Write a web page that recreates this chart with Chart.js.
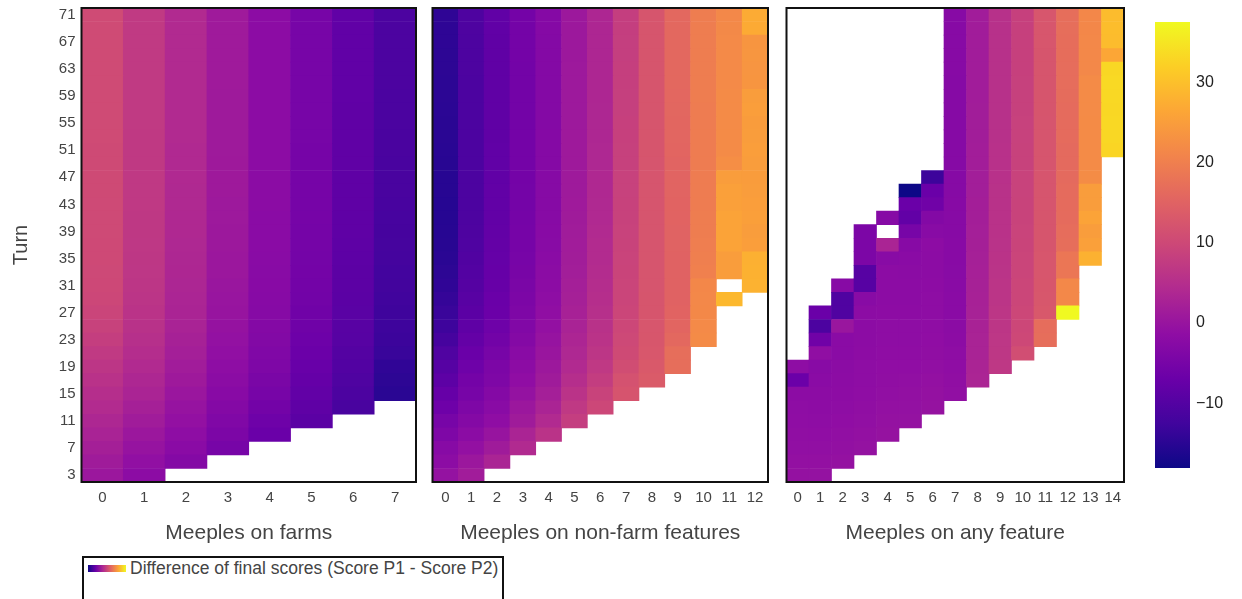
<!DOCTYPE html>
<html>
<head>
<meta charset="utf-8">
<script src="https://cdn.jsdelivr.net/npm/chart.js@4.4.1/dist/chart.umd.min.js"></script>
<style>
body { margin: 0; background: #fff; width: 1242px; height: 599px; overflow: hidden; position: relative; font-family: "Liberation Sans", Arial, sans-serif; }
canvas { position: absolute; top: 0; }
#legend { position: absolute; left: 82px; top: 556px; width: 418px; height: 60px; border: 2px solid #111; color: #444; font-size: 17.5px; }
#legend .swatch { position: absolute; left: 4px; top: 7px; width: 38px; height: 7px;
  background: linear-gradient(to right, #0d0887, #6a00a8, #b12a90, #e16462, #fca636, #f0f921); }
#legend .txt { position: absolute; left: 46px; top: 0; line-height: 21px; white-space: nowrap; }
</style>
</head>
<body>
<canvas id="farms" width="418" height="550" style="left:0px"></canvas>
<canvas id="nonfarm" width="340" height="550" style="left:430px"></canvas>
<canvas id="anyfeat" width="342" height="550" style="left:784px"></canvas>
<canvas id="cbar" width="112" height="599" style="left:1130px"></canvas>
<div id="legend"><span class="swatch"></span><span class="txt">Difference of final scores (Score P1 - Score P2)</span></div>
<script>
// turns (rows, 2 turns each) and the y tick labels
var turns = [3,5,7,9,11,13,15,17,19,21,23,25,27,29,31,33,35,37,39,41,43,45,47,49,51,53,55,57,59,61,63,65,67,69,71];
var yTicks = [3,7,11,15,19,23,27,31,35,39,43,47,51,55,59,63,67,71];
var cbTicks = [-10,0,10,20,30];

// meeples on farms: first turn of each column, then values from that turn upwards
var farmsCols = ['0','1','2','3','4','5','6','7'];
var farmsStart = [3,3,5,7,9,11,13,15];
var farmsZ = [
  [0.5,1.3,2.1,2.9,3.6,4.3,5.0,5.8,6.5,7.3,8.1,8.8,9.4,9.8,10.0,10.1,10.2,10.2,10.3,10.3,10.3,10.4,10.4,10.4,10.4,10.5,10.5,10.5,10.5,10.5,10.5,10.6,10.6,10.6,10.6],
  [-1.8,-1.0,-0.2,0.6,1.4,2.2,3.0,3.6,4.2,4.8,5.3,5.7,6.0,6.3,6.5,6.6,6.7,6.8,6.9,6.9,7.0,7.0,7.0,7.1,7.1,7.1,7.2,7.2,7.2,7.2,7.2,7.3,7.3,7.3,7.3],
  [-3.0,-2.2,-1.5,-0.8,-0.2,0.4,1.0,1.5,2.0,2.4,2.8,3.0,3.2,3.4,3.5,3.6,3.7,3.8,3.8,3.9,3.9,4.0,4.0,4.0,4.1,4.1,4.1,4.1,4.2,4.2,4.2,4.2,4.2,4.2],
  [-5.0,-4.3,-3.6,-3.0,-2.5,-2.0,-1.5,-1.1,-0.7,-0.4,-0.1,0.1,0.3,0.5,0.6,0.7,0.8,0.9,0.9,1.0,1.0,1.0,1.1,1.1,1.1,1.1,1.1,1.2,1.2,1.2,1.2,1.2,1.2],
  [-7.0,-6.3,-5.6,-5.0,-4.5,-4.0,-3.6,-3.3,-3.0,-2.8,-2.6,-2.5,-2.4,-2.3,-2.2,-2.1,-2.1,-2.0,-2.0,-2.0,-1.9,-1.9,-1.9,-1.9,-1.9,-1.8,-1.8,-1.8,-1.8,-1.8,-1.8,-1.8],
  [-9.0,-8.5,-8.0,-7.6,-7.2,-6.8,-6.5,-6.2,-6.0,-5.8,-5.6,-5.5,-5.4,-5.3,-5.3,-5.2,-5.2,-5.1,-5.1,-5.1,-5.1,-5.0,-5.0,-5.0,-5.0,-5.0,-5.0,-5.0,-5.0,-5.0,-5.0],
  [-11.5,-11.0,-10.6,-10.2,-9.9,-9.6,-9.4,-9.2,-9.0,-8.9,-8.8,-8.7,-8.6,-8.5,-8.5,-8.4,-8.4,-8.4,-8.3,-8.3,-8.3,-8.3,-8.3,-8.2,-8.2,-8.2,-8.2,-8.2,-8.2,-8.2],
  [-15.0,-14.7,-14.3,-13.4,-13.1,-12.9,-12.7,-12.5,-12.3,-12.2,-12.0,-11.9,-11.8,-11.7,-11.6,-11.5,-11.4,-11.4,-11.3,-11.3,-11.2,-11.2,-11.2,-11.1,-11.1,-11.1,-11.0,-11.0,-11.0]
];

// meeples on non-farm features
var nonFarmCols = ['0','1','2','3','4','5','6','7','8','9','10','11','12'];
var nonFarmStart = [3,3,5,7,9,11,13,15,17,19,23,29,31];
var nonFarmZ = [
  [-0.5,-1.8,-2.6,-4.0,-5.0,-6.4,-7.5,-8.7,-9.7,-10.5,-11.8,-12.8,-13.3,-13.8,-14.3,-14.7,-15.0,-15.2,-15.3,-15.4,-15.4,-15.3,-15.3,-15.2,-15.1,-15.0,-15.0,-14.9,-14.8,-14.8,-14.7,-14.7,-14.6,-14.6,-14.5],
  [1.5,0.5,-0.8,-2.0,-3.0,-4.0,-5.0,-5.5,-6.3,-7.0,-7.8,-8.5,-9.0,-9.4,-9.8,-10.1,-10.4,-10.6,-10.8,-10.9,-11.0,-11.0,-11.1,-11.1,-11.1,-11.1,-11.1,-11.0,-11.0,-11.0,-10.9,-10.9,-10.9,-10.8,-10.8],
  [3.0,1.3,0.0,-1.4,-2.3,-3.0,-4.0,-4.3,-5.0,-5.7,-6.3,-6.8,-7.0,-7.3,-7.5,-7.7,-7.8,-7.9,-8.0,-8.1,-8.1,-8.2,-8.2,-8.2,-8.3,-8.3,-8.3,-8.3,-8.3,-8.3,-8.3,-8.3,-8.2,-8.2],
  [4.2,3.0,1.3,0.5,-0.5,-1.3,-1.8,-2.3,-3.0,-3.5,-4.0,-4.3,-4.6,-4.8,-5.0,-5.1,-5.2,-5.3,-5.4,-5.4,-5.5,-5.5,-5.5,-5.5,-5.6,-5.6,-5.6,-5.6,-5.6,-5.5,-5.5,-5.5,-5.5],
  [6.0,4.2,3.0,2.0,1.3,0.8,0.2,-0.3,-0.8,-1.2,-1.5,-1.8,-2.0,-2.2,-2.4,-2.5,-2.6,-2.7,-2.8,-2.8,-2.9,-2.9,-2.9,-3.0,-3.0,-3.0,-3.0,-3.0,-3.0,-3.0,-2.9,-2.9],
  [8.0,7.0,6.0,5.0,4.2,3.7,3.3,2.8,2.5,2.2,2.0,1.8,1.6,1.5,1.4,1.3,1.2,1.1,1.1,1.0,1.0,1.0,0.9,0.9,0.9,0.9,0.9,0.8,0.8,0.8,0.8],
  [9.8,9.0,7.8,7.0,6.5,6.0,5.7,5.3,5.0,4.8,4.6,4.4,4.3,4.1,4.0,3.9,3.8,3.8,3.7,3.7,3.6,3.6,3.6,3.5,3.5,3.5,3.5,3.5,3.5,3.5],
  [12.3,11.8,10.9,10.4,10.1,9.8,9.6,9.4,9.3,9.2,9.1,9.0,8.9,8.8,8.8,8.7,8.7,8.6,8.6,8.5,8.5,8.4,8.4,8.3,8.3,8.2,8.2,8.1,8.1],
  [13.5,13.3,12.9,12.7,12.6,12.5,12.5,12.4,12.4,12.4,12.4,12.4,12.4,12.4,12.4,12.4,12.4,12.5,12.5,12.5,12.5,12.5,12.5,12.5,12.5,12.5,12.5,12.5],
  [17.0,17.0,16.0,15.5,15.2,15.0,15.0,15.0,15.0,15.1,15.1,15.2,15.2,15.3,15.3,15.4,15.5,15.6,15.7,15.8,15.9,16.0,16.0,16.0,16.1,16.1,16.1],
  [22.0,21.8,21.6,21.5,21.3,20.2,20.0,19.8,19.7,19.6,19.5,19.5,19.5,19.5,19.5,19.5,19.5,19.5,19.6,19.6,19.6,19.6,19.7,19.7,19.7],
  [29.0,null,25.0,25.0,26.0,26.0,26.0,25.5,25.5,25.0,22.5,22.0,22.0,22.0,22.0,22.0,21.8,21.8,21.8,21.8,21.7,21.5],
  [28.2,28.0,27.8,25.2,25.0,25.3,25.1,25.0,24.8,25.0,25.2,25.0,24.9,25.1,25.0,23.7,23.6,23.8,23.7,27.0,27.2]
];

// meeples on any feature
var anyCols = ['0','1','2','3','4','5','6','7','8','9','10','11','12','13','14'];
var anyStart = [3,3,5,7,9,11,13,15,17,19,21,23,27,35,51];
var anyZ = [
  [-0.6,-0.8,-1.0,-1.2,-1.4,-1.6,-1.9,-6.8,-1.6],
  [-0.5,-0.8,-1.0,-1.3,-1.5,-1.7,-1.9,-2.1,-2.4,-1.2,-6.0,-11.0,-7.0],
  [-0.6,-0.9,-1.1,-1.3,-1.5,-1.7,-1.9,-2.0,-2.1,-2.2,0.3,-10.5,-10.5,-2.6],
  [-0.5,-0.8,-1.0,-1.2,-1.4,-1.5,-1.6,-1.7,-1.8,-1.9,-1.9,-2.4,-9.5,-9.5,-4.2,-4.2,-4.2],
  [-0.4,-0.6,-0.8,-1.0,-1.2,-1.3,-1.4,-1.5,-1.6,-1.7,-1.8,-1.8,-1.9,-2.4,3.0,null,-2.8],
  [-0.5,-0.7,-0.9,-1.1,-1.3,-1.4,-1.5,-1.6,-1.7,-1.8,-1.9,-2.0,-2.1,-2.6,-5.0,-8.0,-7.0,-18.1],
  [-0.4,-0.6,-0.8,-1.0,-1.2,-1.3,-1.4,-1.5,-1.6,-1.7,-1.8,-1.8,-1.7,-2.4,-3.2,-6.0,-7.0,-13.0],
  [-1.0,-1.2,-1.4,-1.6,-1.8,-2.0,-2.1,-2.2,-2.3,-2.4,-2.5,-2.5,-2.6,-2.6,-2.6,-2.7,-2.7,-2.7,-2.7,-2.7,-2.7,-2.7,-2.7,-2.7,-2.6,-2.6,-2.6,-2.6,-2.6],
  [3.2,3.0,2.9,2.8,2.7,2.6,2.5,2.4,2.3,2.2,2.1,2.0,1.9,1.9,1.8,1.8,1.7,1.7,1.6,1.6,1.6,1.5,1.5,1.5,1.5,1.5,1.5,1.5],
  [6.8,6.7,6.6,6.5,6.4,6.3,6.2,6.1,6.0,5.9,5.8,5.8,5.7,5.7,5.6,5.6,5.6,5.5,5.5,5.5,5.5,5.5,5.5,5.5,5.5,5.5,5.5],
  [11.0,10.0,9.8,9.7,9.6,9.5,9.4,9.3,9.2,9.1,9.0,9.0,8.9,8.9,8.8,8.8,8.7,8.7,8.6,8.6,8.6,8.5,8.5,8.5,8.5,8.5],
  [17.0,16.8,13.0,12.8,12.7,12.6,12.6,12.5,12.5,12.5,12.4,12.4,12.4,12.4,12.4,12.4,12.4,12.5,12.5,12.5,12.5,12.5,12.6,12.6,12.6],
  [37.6,21.5,21.5,18.5,18.5,17.0,16.8,16.6,16.5,16.5,16.3,16.3,16.4,16.5,16.5,16.6,16.7,16.8,16.8,16.9,16.9,17.0,17.0],
  [28.0,25.5,25.0,26.0,25.0,25.0,22.2,22.0,22.0,22.0,22.1,22.0,22.0,22.0,21.5,21.5,21.5,21.4,21.4],
  [33.0,33.2,33.3,33.2,33.3,33.4,33.2,26.5,29.5,29.6,29.5]
];

var plasma = ['#0d0887','#41049d','#6a00a8','#8f0da4','#b12a90','#cc4778','#e16462','#f2844b','#fca636','#fcce25','#f0f921'];

var allVals = [].concat.apply([], farmsZ.concat(nonFarmZ, anyZ)).filter(function(v) { return v != null; });
var zMin = Math.min.apply(null, allVals);
var zMax = Math.max.apply(null, allVals);

function hexRgb(h) {
    return [parseInt(h.substr(1, 2), 16), parseInt(h.substr(3, 2), 16), parseInt(h.substr(5, 2), 16)];
}

function colorFor(v) {
    var t = (v - zMin) / (zMax - zMin);
    t = Math.max(0, Math.min(1, t));
    var p = t * 10, i = Math.min(9, Math.floor(p)), f = p - i;
    var a = hexRgb(plasma[i]), b = hexRgb(plasma[i + 1]);
    var c = [0, 1, 2].map(function(k) { return Math.round(a[k] + (b[k] - a[k]) * f); });
    return 'rgb(' + c.join(',') + ')';
}

function buildDatasets(start, z) {
    var sets = [];
    turns.forEach(function(turn) {
        var data = [], colors = [];
        z.forEach(function(col, c) {
            var v = turn >= start[c] ? col[(turn - start[c]) / 2] : null;
            if (v == null) {
                data.push(null);
                colors.push('rgba(0,0,0,0)');
            } else {
                data.push([turn - 1, turn + 1]);
                colors.push(colorFor(v));
            }
        });
        sets.push({ data: data, backgroundColor: colors, borderWidth: 0, grouped: false,
                    barPercentage: 1, categoryPercentage: 1 });
    });
    return sets;
}

var framePlugin = {
    id: 'frame',
    afterDatasetsDraw: function(chart) {
        var a = chart.chartArea, c = chart.ctx;
        c.save();
        c.strokeStyle = '#111';
        c.lineWidth = 2;
        c.strokeRect(a.left, a.top, a.right - a.left, a.bottom - a.top);
        c.restore();
    }
};

function noPad(s) {
    s.paddingTop = 0; s.paddingBottom = 0; s.paddingLeft = 0; s.paddingRight = 0;
}

var font = '"Liberation Sans", Arial, sans-serif';
Chart.defaults.font.family = font;
Chart.defaults.color = '#444';

function panel(id, labels, start, z, title, showY, pad) {
    new Chart(document.getElementById(id), {
        type: 'bar',
        data: { labels: labels, datasets: buildDatasets(start, z) },
        plugins: [framePlugin],
        options: {
            responsive: false,
            animation: false,
            layout: { padding: { top: 8, left: pad.left, right: pad.right, bottom: 0 } },
            plugins: { legend: { display: false }, tooltip: { enabled: false } },
            scales: {
                x: {
                    grid: { display: false, drawTicks: false },
                    border: { display: false },
                    ticks: { padding: 7, font: { size: 15 }, maxRotation: 0, autoSkip: false },
                    title: { display: true, text: title, font: { size: 21 }, padding: { top: 0, bottom: 4 } },
                    afterFit: function(s) { s.height = 68; noPad(s); }
                },
                y: {
                    display: showY,
                    min: 2, max: 72,
                    grid: { display: false, drawTicks: false },
                    border: { display: false },
                    ticks: { padding: 6, font: { size: 15 } },
                    afterBuildTicks: function(s) { s.ticks = yTicks.map(function(v) { return { value: v }; }); },
                    title: { display: showY, text: 'Turn', font: { size: 20 }, padding: { top: 9, bottom: 0 } },
                    afterFit: function(s) { s.width = showY ? 81.5 : 0; noPad(s); }
                }
            }
        }
    });
}

panel('farms', farmsCols, farmsStart, farmsZ, 'Meeples on farms', true, { left: 0, right: 2 });
panel('nonfarm', nonFarmCols, nonFarmStart, nonFarmZ, 'Meeples on non-farm features', false, { left: 2.5, right: 2 });
panel('anyfeat', anyCols, anyStart, anyZ, 'Meeples on any feature', false, { left: 2.5, right: 2 });

// colour bar
new Chart(document.getElementById('cbar'), {
    type: 'bar',
    data: {
        labels: [''],
        datasets: [{
            data: [[zMin, zMax]],
            barPercentage: 1, categoryPercentage: 1, borderWidth: 0,
            backgroundColor: function(ctx) {
                var a = ctx.chart.chartArea;
                if (!a) return plasma[5];
                var g = ctx.chart.ctx.createLinearGradient(0, a.bottom, 0, a.top);
                plasma.forEach(function(c, i) { g.addColorStop(i / 10, c); });
                return g;
            }
        }]
    },
    options: {
        responsive: false,
        animation: false,
        layout: { padding: { left: 25, top: 22, bottom: 131, right: 0 } },
        plugins: { legend: { display: false }, tooltip: { enabled: false } },
        scales: {
            x: { display: false },
            y: {
                position: 'right',
                min: zMin, max: zMax,
                grid: { display: false, drawTicks: false },
                border: { display: false },
                ticks: { padding: 6, font: { size: 16 }, color: '#222',
                         callback: function(v) { return String(v).replace('-', '\u2212'); } },
                afterBuildTicks: function(s) { s.ticks = cbTicks.map(function(v) { return { value: v }; }); },
                afterFit: function(s) { s.width = 52; noPad(s); }
            }
        }
    }
});
</script>
</body>
</html>
